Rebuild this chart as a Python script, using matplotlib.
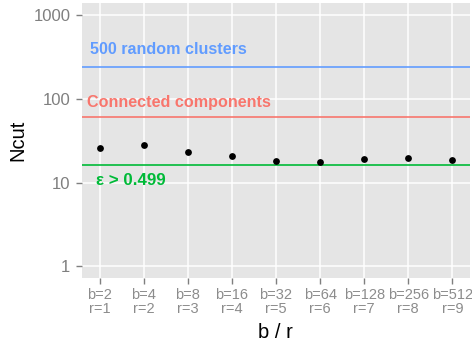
import matplotlib.pyplot as plt
import numpy as np

plt.rcParams["font.family"] = ["Liberation Sans", "DejaVu Sans"]

# data
b_vals = [2, 4, 8, 16, 32, 64, 128, 256, 512]
r_vals = [1, 2, 3, 4, 5, 6, 7, 8, 9]
ncut = [25.7, 27.9, 23.0, 20.6, 17.9, 17.5, 19.0, 19.5, 18.4]

ref_names = ["500 random clusters", "Connected components", "\u03b5 > 0.499"]
ref_values = [244, 61, 16.2]
ref_colors = ["#619CFF", "#F8766D", "#00BA38"]
label_x = [0.79, 0.72, 0.92]   # left edge of each line label
label_y = [346, 81, 9.3]       # baseline of each line label
label_size = [11.6, 11.6, 12.2]

y_ticks = [1, 10, 100, 1000]

fig = plt.figure(figsize=(4.72, 3.43), dpi=100)
ax = fig.add_axes([0.1737, 0.1895, 0.8221, 0.8018])
ax.set_facecolor("#E5E5E5")

x = np.arange(1, len(b_vals) + 1)
ax.set_yscale("log")
ax.set_xlim(0.6, 9.4)
ax.set_ylim(0.72, 1412)

for v, c in zip(ref_values, ref_colors):
    ax.axhline(v, color=c, lw=1.2, zorder=2)
for name, lx, ly, fs, c in zip(ref_names, label_x, label_y, label_size, ref_colors):
    ax.text(lx, ly, name, color=c, fontsize=fs, va="baseline", ha="left",
            fontweight="bold", zorder=3)

ax.scatter(x, ncut, s=24, color="black", zorder=4, linewidths=0)

ax.set_xticks(x)
ax.set_xticklabels([f"b={b}\nr={r}" for b, r in zip(b_vals, r_vals)],
                   linespacing=1.0)
ax.set_yticks(y_ticks)
ax.set_yticklabels([str(t) for t in y_ticks])
ax.yaxis.set_minor_locator(plt.NullLocator())

ax.grid(True, which="major", color="white", lw=1.1)
ax.set_axisbelow(True)
for s in ax.spines.values():
    s.set_visible(False)

ax.tick_params(axis="x", colors="#7F7F7F", labelsize=10.5, length=4.3, width=1,
               pad=3, labelcolor="#8C8C8C")
ax.tick_params(axis="y", colors="#7F7F7F", labelsize=12, length=4.3, width=1,
               pad=4, labelcolor="#7F7F7F")

fig.text(275.5 / 472, 1 - 338 / 343, "b / r", fontsize=14.5, ha="center",
         va="baseline")
fig.text(17.5 / 472, 1 - 140 / 343, "Ncut", fontsize=14.5, rotation=90,
         ha="center", va="center")

fig.savefig("out.png", dpi=100)
